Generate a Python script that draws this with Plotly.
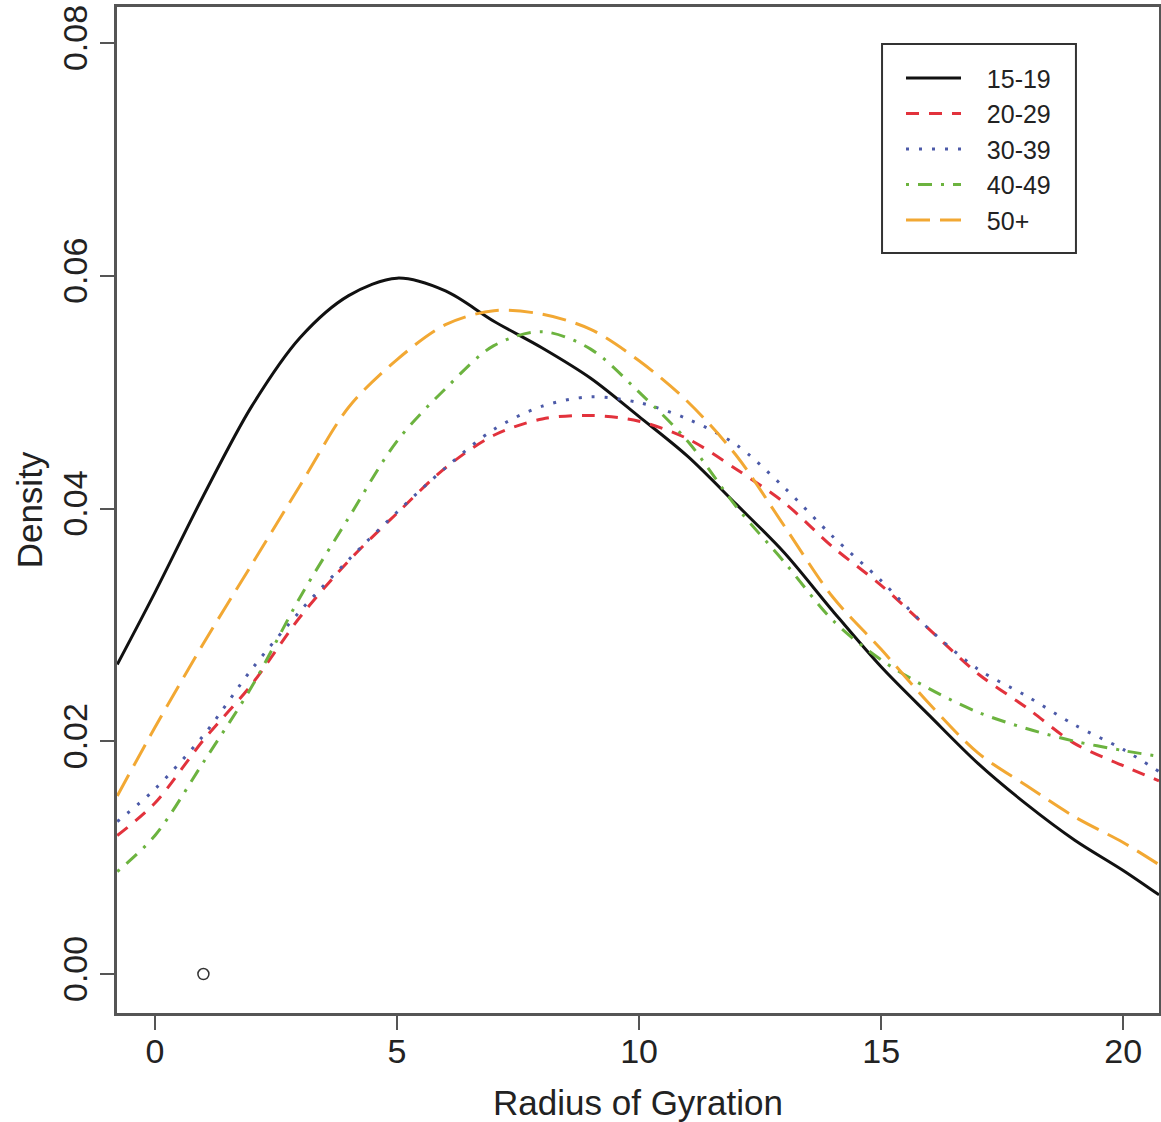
import plotly.graph_objects as go

x_vals = [-0.78, 0, 1, 2, 3, 4, 5, 6, 7, 8, 9, 10, 11, 12, 13, 14, 15, 16, 17, 18, 19, 20, 20.74]

d_15_19 = [0.0266, 0.0328, 0.0411, 0.0488, 0.0547, 0.0583, 0.0598, 0.0587, 0.0561, 0.0538, 0.0512,
           0.0479, 0.0445, 0.0404, 0.0362, 0.0312, 0.0264, 0.0222, 0.0181, 0.0146, 0.0115, 0.0089, 0.0068]
d_20_29 = [0.0119, 0.0147, 0.0201, 0.0249, 0.0307, 0.0355, 0.0396, 0.0435, 0.0463, 0.0477, 0.0480,
           0.0475, 0.0460, 0.0434, 0.0405, 0.0367, 0.0334, 0.0296, 0.0258, 0.0229, 0.0198, 0.0179, 0.0166]
d_30_39 = [0.0131, 0.0159, 0.0205, 0.0262, 0.0312, 0.0356, 0.0397, 0.0435, 0.0468, 0.0488, 0.0496,
           0.0491, 0.0477, 0.0455, 0.0418, 0.0376, 0.0338, 0.0296, 0.0262, 0.0239, 0.0214, 0.0193, 0.0174]
d_40_49 = [0.0088, 0.0119, 0.0182, 0.0247, 0.0324, 0.0392, 0.0458, 0.0503, 0.0540, 0.0552, 0.0537,
           0.0500, 0.0458, 0.0402, 0.0354, 0.0304, 0.0270, 0.0245, 0.0225, 0.0211, 0.0200, 0.0192, 0.0187]
d_50p = [0.0153, 0.0212, 0.0284, 0.0352, 0.0420, 0.0487, 0.0528, 0.0558, 0.0570, 0.0567, 0.0554,
         0.0527, 0.0492, 0.0446, 0.0385, 0.0324, 0.0279, 0.0232, 0.0190, 0.0162, 0.0135, 0.0113, 0.0094]

point_x = [1]
point_y = [0]

series = [
    ("15-19", d_15_19, "#111111", "solid"),
    ("20-29", d_20_29, "#e2323c", "13px,10px"),
    ("30-39", d_30_39, "#4c5aa8", "3px,10px"),
    ("40-49", d_40_49, "#6cb33f", "3px,9px,14px,9px"),
    ("50+", d_50p, "#f2a833", "24px,10px"),
]

NB = "\u00a0"
fig = go.Figure()
for name, ys, col, dash in series:
    fig.add_trace(go.Scatter(
        x=x_vals, y=ys, mode="lines", name=NB * 3 + name + NB * 2,
        line=dict(color=col, width=3, dash=dash, shape="spline", smoothing=0.9),
    ))

fig.add_trace(go.Scatter(
    x=point_x, y=point_y, mode="markers", showlegend=False,
    marker=dict(symbol="circle-open", size=11, color="#333333", line=dict(width=1.5)),
))

font_family = "Liberation Sans, Arial, sans-serif"
axis_common = dict(
    showline=True, linecolor="#555555", linewidth=2.5, mirror=True,
    ticks="outside", ticklen=14, tickwidth=2, tickcolor="#555555",
    showgrid=False, zeroline=False, automargin=False,
    tickfont=dict(family=font_family, size=34, color="#222222"),
)

# legend frame (paper coordinates of plot area)
fig.add_shape(type="rect", xref="paper", yref="paper",
              x0=0.7342, x1=0.9203, y0=0.7555, y1=0.9632,
              line=dict(color="#333333", width=2), fillcolor="rgba(0,0,0,0)")

fig.update_layout(
    width=1161, height=1122,
    margin=dict(l=117, r=2, t=7, b=109),
    paper_bgcolor="white", plot_bgcolor="white",
    font=dict(family=font_family, color="#222222"),
    xaxis=dict(
        range=[-0.785, 20.74], tickvals=[0, 5, 10, 15, 20],
        title=dict(text="Radius of Gyration", font=dict(family=font_family, size=35, color="#222222"), standoff=26),
        ticklabelstandoff=-8,
        **axis_common,
    ),
    yaxis=dict(
        range=[-0.00335, 0.0831], tickvals=[0, 0.02, 0.04, 0.06, 0.08],
        ticktext=["0.00", "0.02", "0.04", "0.06", "0.08"],
        tickangle=-90,
        title=dict(text="Density", font=dict(family=font_family, size=35, color="#222222"), standoff=3),
        ticklabelstandoff=0,
        **axis_common,
    ),
    legend=dict(
        x=0.7524, y=0.952, xanchor="left", yanchor="top",
        borderwidth=0, bgcolor="rgba(0,0,0,0)",
        font=dict(family=font_family, size=25, color="#222222"),
        tracegroupgap=0, itemwidth=55,
    ),
    showlegend=True,
)

fig.write_html(
    "out.html",
    config={"displayModeBar": False},
    post_script="document.body.style.margin='0';document.body.style.padding='0';"
                "document.documentElement.style.overflow='hidden';",
)
